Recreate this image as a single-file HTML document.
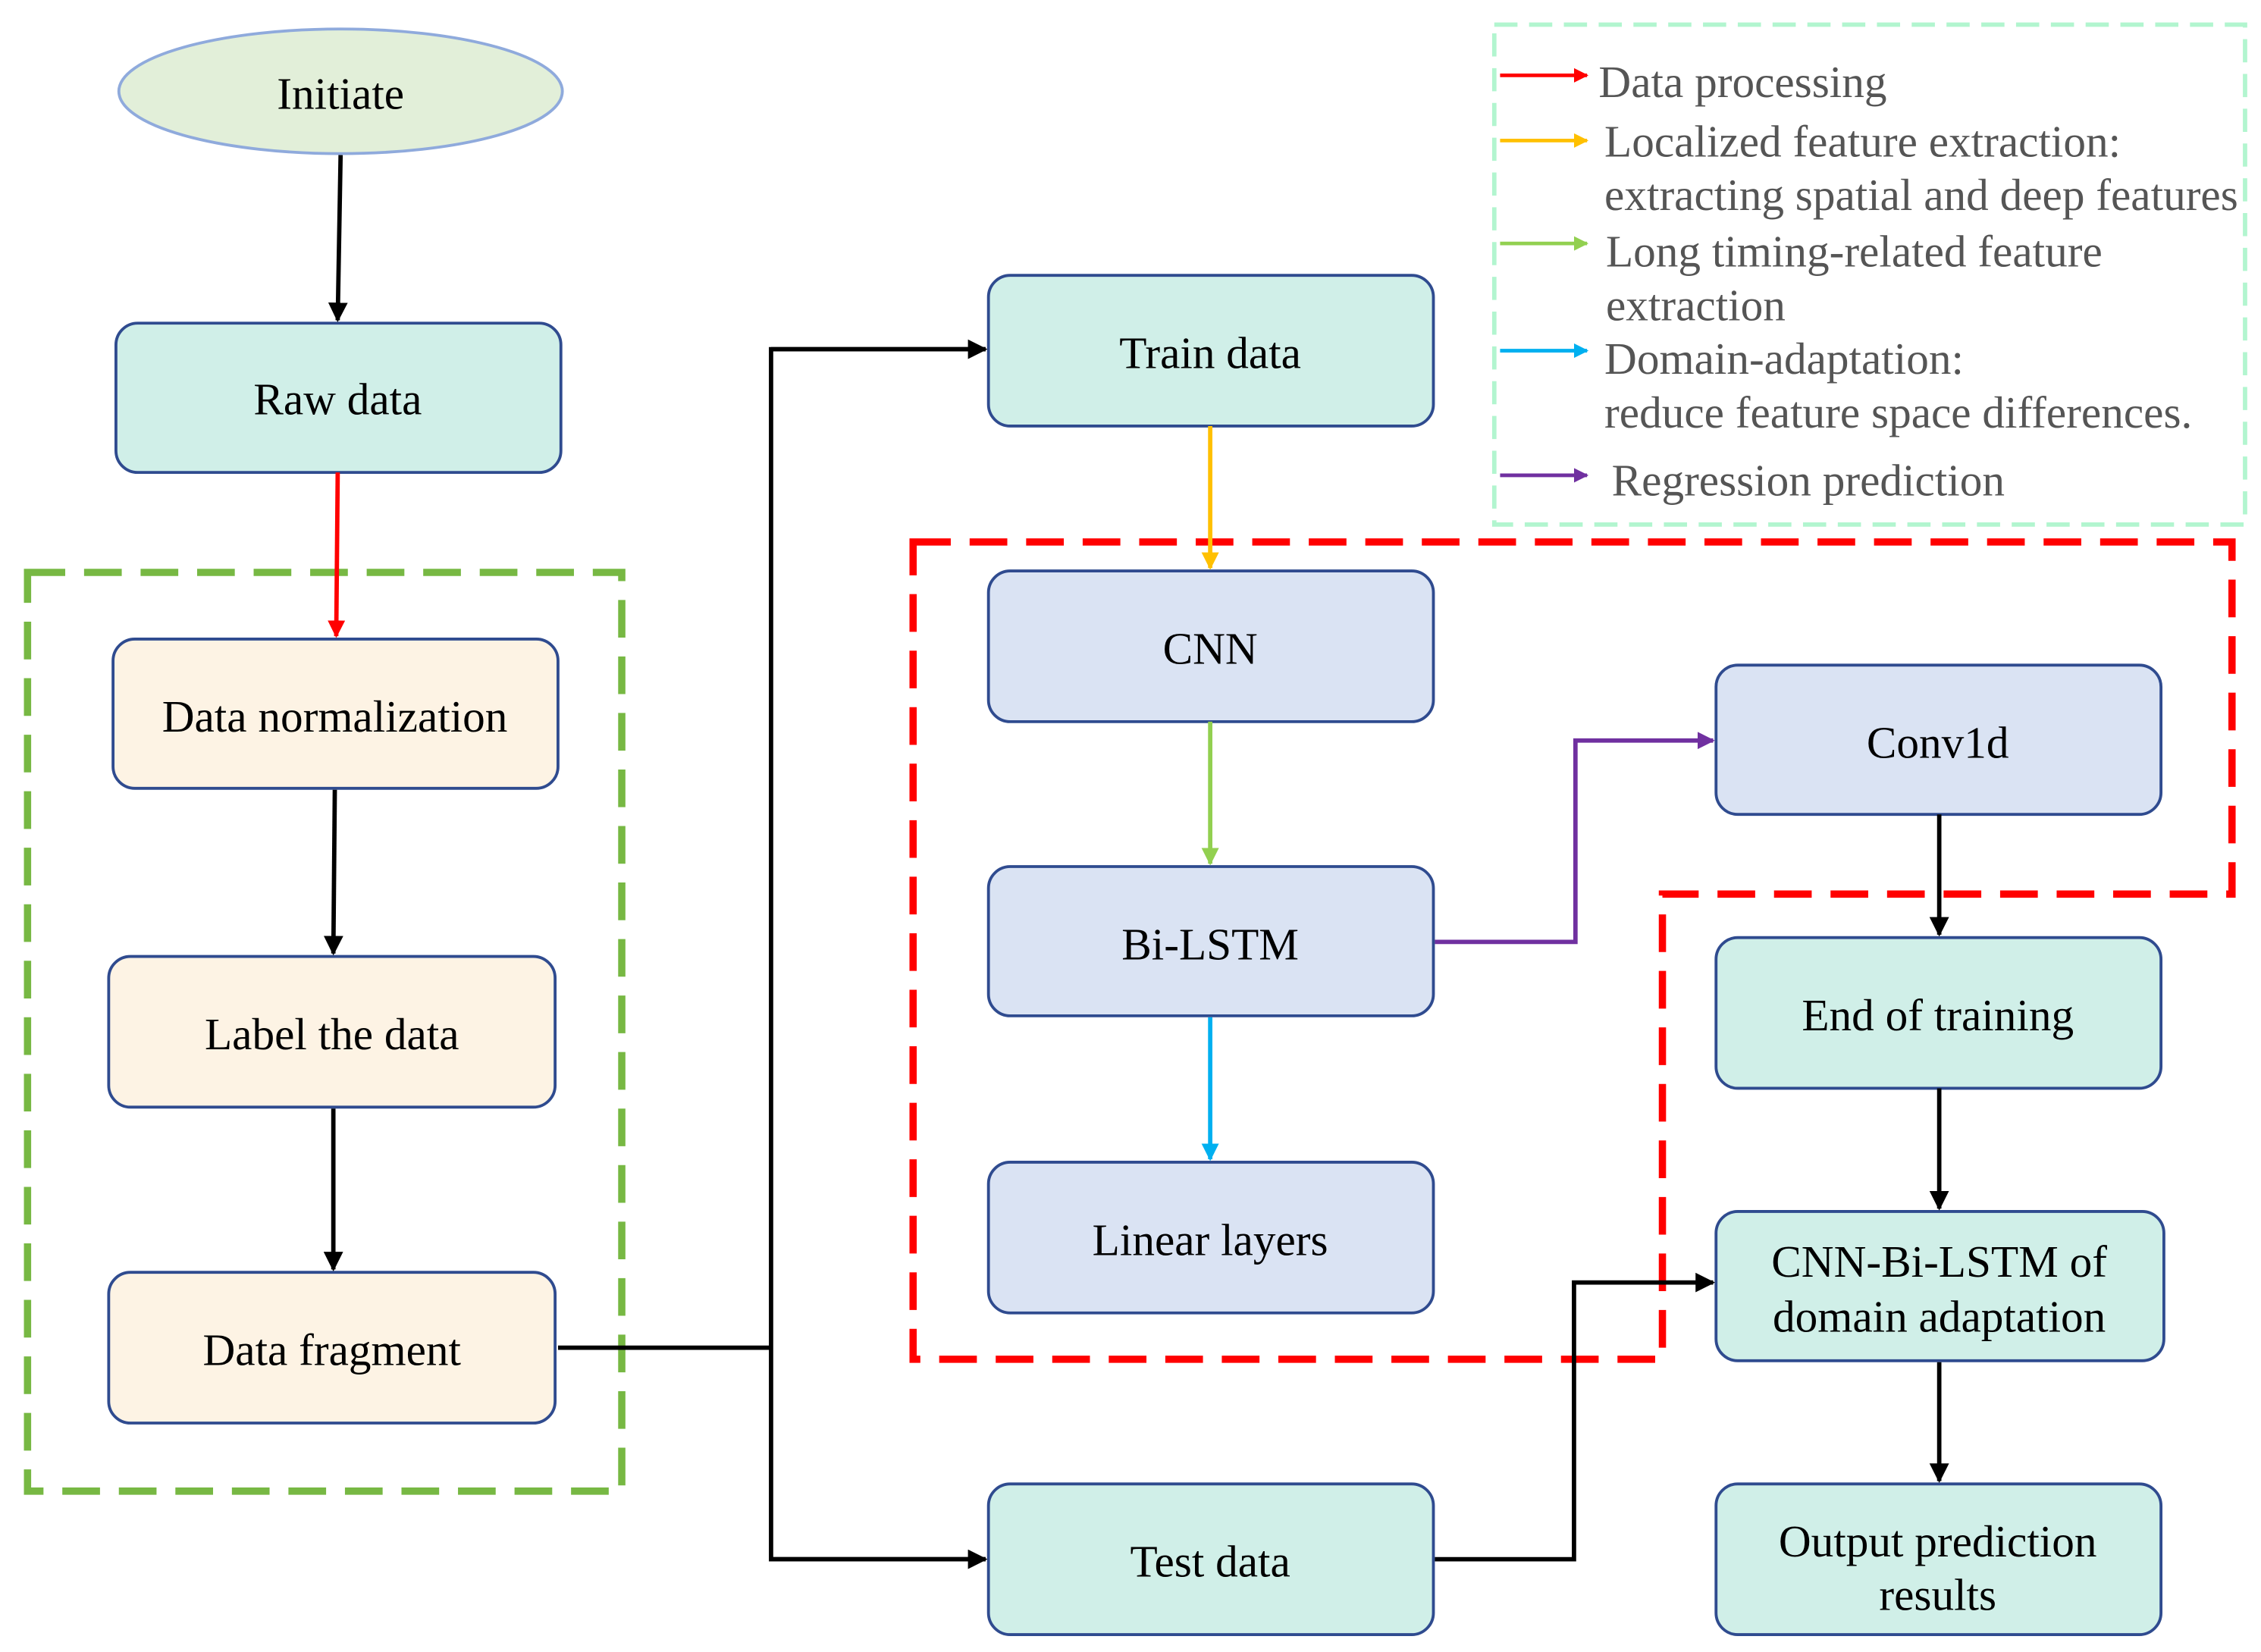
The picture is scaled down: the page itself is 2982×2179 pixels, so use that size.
<!DOCTYPE html>
<html><head><meta charset="utf-8"><style>
html,body{margin:0;padding:0;background:#fff;}
svg{display:block;}
text{font-family:"Liberation Serif",serif;}
</style></head><body>
<svg width="2982" height="2179" viewBox="0 0 1560 1140" preserveAspectRatio="none" xmlns="http://www.w3.org/2000/svg">
<defs>
<marker id="k" viewBox="0 0 10 10" refX="9" refY="5" markerWidth="4.5" markerHeight="4.5" orient="auto"><path d="M0,0L10,5L0,10z" fill="#000"/></marker>
<marker id="r" viewBox="0 0 10 10" refX="9" refY="5" markerWidth="4" markerHeight="4" orient="auto"><path d="M0,0L10,5L0,10z" fill="#f00"/></marker>
<marker id="o" viewBox="0 0 10 10" refX="9" refY="5" markerWidth="4" markerHeight="4" orient="auto"><path d="M0,0L10,5L0,10z" fill="#ffc000"/></marker>
<marker id="g" viewBox="0 0 10 10" refX="9" refY="5" markerWidth="4" markerHeight="4" orient="auto"><path d="M0,0L10,5L0,10z" fill="#92d050"/></marker>
<marker id="b" viewBox="0 0 10 10" refX="9" refY="5" markerWidth="4" markerHeight="4" orient="auto"><path d="M0,0L10,5L0,10z" fill="#00b0f0"/></marker>
<marker id="p" viewBox="0 0 10 10" refX="9" refY="5" markerWidth="4" markerHeight="4" orient="auto"><path d="M0,0L10,5L0,10z" fill="#7030a0"/></marker>
</defs>

<rect x="1031" y="17" width="518" height="345" fill="none" stroke="#b2f5cf" stroke-width="3" stroke-dasharray="16 8"/>
<g stroke-width="2.5" fill="none">
<line x1="1035" y1="52" x2="1095" y2="52" stroke="#f00" marker-end="url(#r)"/>
<line x1="1035" y1="97" x2="1095" y2="97" stroke="#ffc000" marker-end="url(#o)"/>
<line x1="1035" y1="168" x2="1095" y2="168" stroke="#92d050" marker-end="url(#g)"/>
<line x1="1035" y1="242" x2="1095" y2="242" stroke="#00b0f0" marker-end="url(#b)"/>
<line x1="1035" y1="328" x2="1095" y2="328" stroke="#7030a0" marker-end="url(#p)"/>
</g>
<g font-size="31" fill="#555">
<text x="1103" y="67">Data processing</text>
<text x="1107" y="108">Localized feature extraction:</text>
<text x="1107" y="145">extracting spatial and deep features</text>
<text x="1108" y="184">Long timing-related feature</text>
<text x="1108" y="221">extraction</text>
<text x="1107" y="258">Domain-adaptation:</text>
<text x="1107" y="295">reduce feature space differences.</text>
<text x="1112" y="342">Regression prediction</text>
</g>

<rect x="19" y="395" width="410" height="634" fill="none" stroke="#77b843" stroke-width="5" stroke-dasharray="26 13"/>
<path d="M630,374 L1540,374 L1540,617 L1147,617 L1147,938 L630,938 Z" fill="none" stroke="#f00" stroke-width="5" stroke-dasharray="26 13"/>

<ellipse cx="235" cy="63" rx="153" ry="43" fill="#e2efd9" stroke="#8faadc" stroke-width="2"/>
<g stroke="#2f4b8f" stroke-width="2">
<rect x="80" y="223" width="307" height="103" rx="15" fill="#d0efe8"/>
<rect x="78" y="441" width="307" height="103" rx="15" fill="#fdf3e4"/>
<rect x="75" y="660" width="308" height="104" rx="15" fill="#fdf3e4"/>
<rect x="75" y="878" width="308" height="104" rx="15" fill="#fdf3e4"/>
<rect x="682" y="190" width="307" height="104" rx="15" fill="#d0efe8"/>
<rect x="682" y="394" width="307" height="104" rx="15" fill="#dae3f3"/>
<rect x="682" y="598" width="307" height="103" rx="15" fill="#dae3f3"/>
<rect x="682" y="802" width="307" height="104" rx="15" fill="#dae3f3"/>
<rect x="682" y="1024" width="307" height="104" rx="15" fill="#d0efe8"/>
<rect x="1184" y="459" width="307" height="103" rx="15" fill="#dae3f3"/>
<rect x="1184" y="647" width="307" height="104" rx="15" fill="#d0efe8"/>
<rect x="1184" y="836" width="309" height="103" rx="15" fill="#d0efe8"/>
<rect x="1184" y="1024" width="307" height="104" rx="15" fill="#d0efe8"/>
</g>
<g font-size="31" fill="#000" text-anchor="middle">
<text x="235" y="75">Initiate</text>
<text x="233" y="286">Raw data</text>
<text x="231" y="505">Data normalization</text>
<text x="229" y="724">Label the data</text>
<text x="229" y="942">Data fragment</text>
<text x="835" y="254">Train data</text>
<text x="835" y="458">CNN</text>
<text x="835" y="662">Bi-LSTM</text>
<text x="835" y="866">Linear layers</text>
<text x="835" y="1088">Test data</text>
<text x="1337" y="523">Conv1d</text>
<text x="1337" y="711">End of training</text>
<text x="1338" y="881">CNN-Bi-LSTM of</text>
<text x="1338" y="919">domain adaptation</text>
<text x="1337" y="1074">Output prediction</text>
<text x="1337" y="1111">results</text>
</g>

<g fill="none" stroke-width="3">
<line x1="235" y1="107" x2="233" y2="221" stroke="#000" marker-end="url(#k)"/>
<line x1="233" y1="326" x2="232" y2="439" stroke="#f00" marker-end="url(#r)"/>
<line x1="231" y1="545" x2="230" y2="658" stroke="#000" marker-end="url(#k)"/>
<line x1="230" y1="765" x2="230" y2="876" stroke="#000" marker-end="url(#k)"/>
<polyline points="385,930 532,930" stroke="#000"/>
<polyline points="680,241 532,241 532,1076 680,1076" stroke="#000"/>
<line x1="532" y1="241" x2="680" y2="241" stroke="#000" marker-end="url(#k)"/>
<line x1="532" y1="1076" x2="680" y2="1076" stroke="#000" marker-end="url(#k)"/>
<line x1="835" y1="294" x2="835" y2="392" stroke="#ffc000" marker-end="url(#o)"/>
<line x1="835" y1="498" x2="835" y2="596" stroke="#92d050" marker-end="url(#g)"/>
<line x1="835" y1="702" x2="835" y2="800" stroke="#00b0f0" marker-end="url(#b)"/>
<polyline points="990,650 1087,650 1087,511 1182,511" stroke="#7030a0" marker-end="url(#p)"/>
<line x1="1338" y1="562" x2="1338" y2="645" stroke="#000" marker-end="url(#k)"/>
<line x1="1338" y1="751" x2="1338" y2="834" stroke="#000" marker-end="url(#k)"/>
<line x1="1338" y1="940" x2="1338" y2="1022" stroke="#000" marker-end="url(#k)"/>
<polyline points="990,1076 1086,1076 1086,885 1182,885" stroke="#000" marker-end="url(#k)"/>
</g>
</svg>
</body></html>
